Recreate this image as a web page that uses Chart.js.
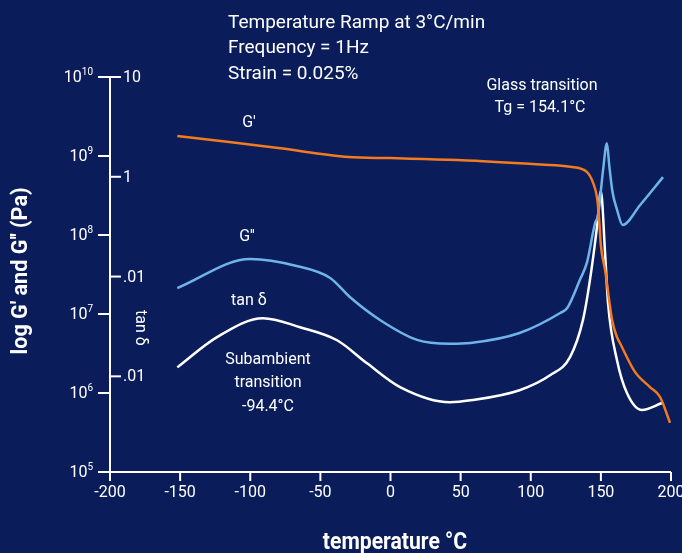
<!DOCTYPE html>
<html>
<head>
<meta charset="utf-8">
<script src="https://cdn.jsdelivr.net/npm/chart.js@4"></script>
<style>
  html, body { margin: 0; padding: 0; background: #0a1d5a; }
  #wrap { width: 682px; height: 553px; }
</style>
</head>
<body>
<div id="wrap"><canvas id="grafico" width="682" height="553"></canvas></div>
<script>
// temperatura (°C) e valores
const tempGp = [-152, -115, -80, -30, 0, 66, 107, 128, 140, 144.4, 147.3, 148.7, 150, 153, 158, 161.5, 163.6, 174.3, 185, 192.2, 199.3];
const valGp  = [1.79e9, 1.5e9, 1.26e9, 9.7e8, 9.4e8, 8.6e8, 7.8e8, 7.3e8, 6.3e8, 4.6e8, 2.95e8, 1.64e8, 7.4e7, 3.6e7, 8.4e6, 5.1e6, 4.3e6, 1.85e6, 1.19e6, 8.9e5, 4.2e5];

const tempGpp = [-152, -100, -67, -43, -29, -7.5, 19, 42, 57, 92, 121, 126, 135, 140.1, 145.8, 148, 151.5, 154.3, 156, 158.3, 161.5, 165.5, 178, 194.3];
const valGpp  = [2.13e7, 4.97e7, 4.06e7, 2.86e7, 1.64e7, 8.4e6, 4.7e6, 4.2e6, 4.3e6, 5.75e6, 1.03e7, 1.19e7, 2.7e7, 4.5e7, 1.4e8, 1.78e8, 6.5e8, 1.45e9, 7.5e8, 3.5e8, 2.1e8, 1.34e8, 2.4e8, 5.4e8];

const tempTan = [-152, -123.7, -90.9, -64.5, -38.1, -16.7, 6.8, 42.4, 57, 92, 114, 128, 137.2, 142.2, 147.2, 150, 153, 155.1, 161.5, 168.6, 179.3, 193.6];
const valTan  = [0.0123, 0.0247, 0.0383, 0.0311, 0.023, 0.0135, 0.0078, 0.0055, 0.00575, 0.00726, 0.0103, 0.0156, 0.0366, 0.092, 0.313, 0.72, 0.172, 0.054, 0.0145, 0.0068, 0.0046, 0.0054];

// ticks dos eixos
const xTicks = [-200, -150, -100, -50, 0, 50, 100, 150, 200];
const yTicks = [1e5, 1e6, 1e7, 1e8, 1e9, 1e10];
const yTickExp = ['5', '6', '7', '8', '9', '10'];
const tanTicks = [10, 1, 0.1, 0.01];
const tanTickLabels = ['10', '1', '.01', '.01'];

const FONTE = 'Roboto, "Open Sans", sans-serif';
const BRANCO = '#ffffff';

function pontos(xs, ys) {
  return xs.map((x, i) => ({ x: x, y: ys[i] }));
}

// desenha eixos, rótulos e anotações
const eixosPlugin = {
  id: 'eixos',
  beforeDraw(chart) {
    const ctx = chart.ctx;
    ctx.save();
    ctx.fillStyle = '#0a1d5a';
    ctx.fillRect(0, 0, chart.width, chart.height);
    ctx.restore();
  },
  afterDraw(chart) {
    const ctx = chart.ctx;
    const sx = chart.scales.x, sy = chart.scales.y, st = chart.scales.tan;
    const a = chart.chartArea;
    ctx.save();
    ctx.strokeStyle = BRANCO;
    ctx.fillStyle = BRANCO;
    ctx.lineWidth = 2;

    // linhas dos eixos
    ctx.beginPath();
    ctx.moveTo(a.left, a.top);
    ctx.lineTo(a.left, a.bottom);
    ctx.lineTo(a.right, a.bottom);
    ctx.stroke();

    // eixo x
    ctx.font = '16px ' + FONTE;
    ctx.textAlign = 'center';
    ctx.textBaseline = 'middle';
    xTicks.forEach(v => {
      const px = sx.getPixelForValue(v);
      ctx.beginPath();
      ctx.moveTo(px, a.bottom);
      ctx.lineTo(px, a.bottom + 9);
      ctx.stroke();
      ctx.fillText(String(v), px, a.bottom + 21);
    });

    // eixo y (G', G'')
    yTicks.forEach((v, i) => {
      const py = sy.getPixelForValue(v);
      ctx.beginPath();
      ctx.moveTo(a.left - 12, py);
      ctx.lineTo(a.left, py);
      ctx.stroke();
      ctx.font = '10px ' + FONTE;
      const wExp = ctx.measureText(yTickExp[i]).width;
      ctx.textAlign = 'left';
      ctx.fillText(yTickExp[i], a.left - 17 - wExp, py - 5);
      ctx.font = '16px ' + FONTE;
      ctx.textAlign = 'right';
      ctx.fillText('10', a.left - 17 - wExp, py + 1);
    });

    // eixo tan δ
    ctx.font = '16px ' + FONTE;
    ctx.textAlign = 'left';
    tanTicks.forEach((v, i) => {
      const py = st.getPixelForValue(v);
      ctx.beginPath();
      ctx.moveTo(a.left, py);
      ctx.lineTo(a.left + 11, py);
      ctx.stroke();
      ctx.fillText(tanTickLabels[i], a.left + 13, py + 1);
    });

    // títulos dos eixos
    ctx.save();
    ctx.translate(21, 271);
    ctx.rotate(-Math.PI / 2);
    ctx.scale(0.98, 1);
    ctx.font = 'bold 22px ' + FONTE;
    ctx.textAlign = 'center';
    ctx.fillText("log G' and G'' (Pa)", 0, 0);
    ctx.restore();

    ctx.save();
    ctx.translate(140, 328);
    ctx.rotate(Math.PI / 2);
    ctx.font = '16px ' + FONTE;
    ctx.textAlign = 'center';
    ctx.fillText('tan \u03b4', 0, 0);
    ctx.restore();

    ctx.save();
    ctx.translate(395, 543);
    ctx.scale(0.92, 1);
    ctx.font = 'bold 23px ' + FONTE;
    ctx.textAlign = 'center';
    ctx.fillText('temperature \u00b0C', 0, 0);
    ctx.restore();

    // anotações
    ctx.font = '19px ' + FONTE;
    ctx.textAlign = 'left';
    ctx.fillText('Temperature Ramp at 3\u00b0C/min', 228, 23);
    ctx.fillText('Frequency = 1Hz', 228, 48);
    ctx.fillText('Strain = 0.025%', 228, 74);

    ctx.font = '16px ' + FONTE;
    ctx.textAlign = 'center';
    ctx.fillText('Glass transition', 542, 86);
    ctx.fillText('Tg = 154.1\u00b0C', 540, 108);
    ctx.fillText("G'", 249, 123);
    ctx.fillText("G''", 247, 237);
    ctx.fillText('tan \u03b4', 249, 301);
    ctx.fillText('Subambient', 268, 360);
    ctx.fillText('transition', 268, 383);
    ctx.fillText('-94.4\u00b0C', 268, 407);
    ctx.restore();
  }
};

const ctx = document.getElementById('grafico').getContext('2d');
const grafico = new Chart(ctx, {
  type: 'line',
  data: {
    datasets: [
      { label: "G'", data: pontos(tempGp, valGp), yAxisID: 'y', borderColor: '#f37a1f', borderWidth: 2.5 },
      { label: "G''", data: pontos(tempGpp, valGpp), yAxisID: 'y', borderColor: '#6fb4e8', borderWidth: 2.5 },
      { label: 'tan δ', data: pontos(tempTan, valTan), yAxisID: 'tan', borderColor: '#ffffff', borderWidth: 2.5 }
    ]
  },
  options: {
    responsive: false,
    animation: false,
    layout: { padding: { left: 110, right: 11, top: 77, bottom: 81 } },
    elements: {
      point: { radius: 0 },
      line: { fill: false, cubicInterpolationMode: 'monotone' }
    },
    scales: {
      x: { type: 'linear', min: -200, max: 200, display: false },
      y: { type: 'logarithmic', min: 1e5, max: 1e10, display: false },
      tan: { type: 'logarithmic', min: 0.0011, max: 10, display: false }
    },
    plugins: {
      legend: { display: false },
      tooltip: { enabled: false }
    }
  },
  plugins: [eixosPlugin]
});
</script>
</body>
</html>
